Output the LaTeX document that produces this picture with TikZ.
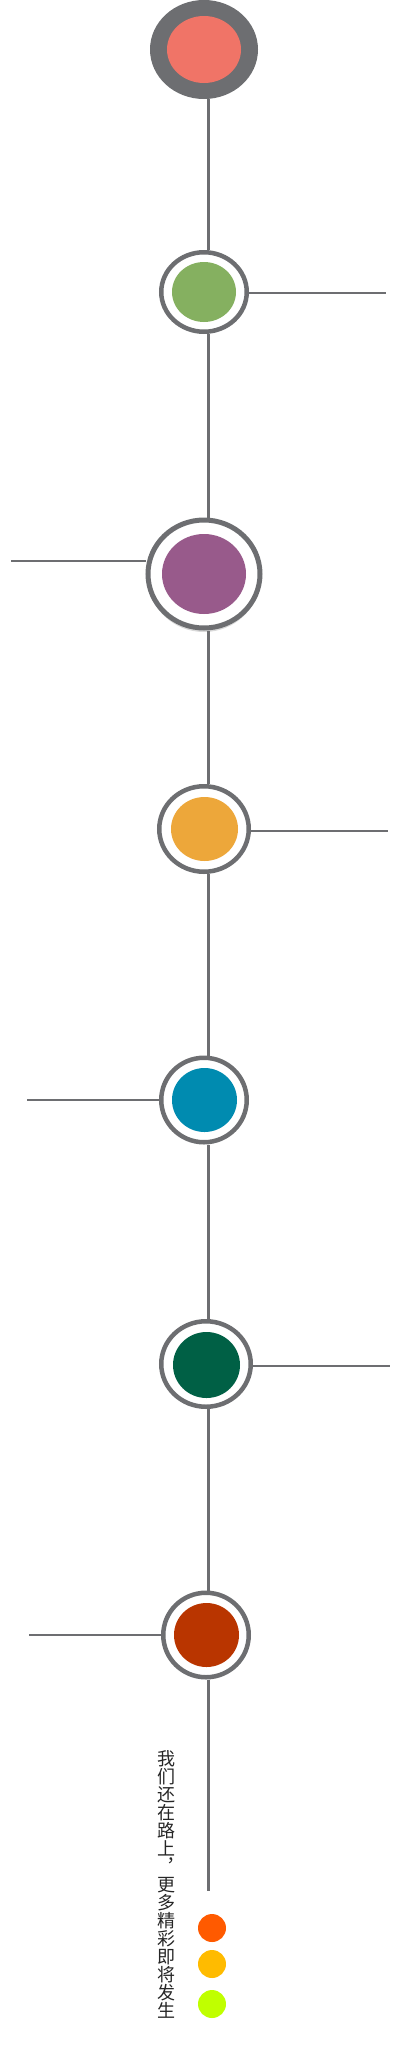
\documentclass[tikz,border=0pt]{standalone}
\usepackage{fontspec}
\newfontfamily\cjk{Noto Sans CJK SC}
\usetikzlibrary{shapes.geometric,shadows}
\definecolor{spinegray}{HTML}{6D6E71}
\definecolor{salmon}{HTML}{F07467}
\definecolor{leaf}{HTML}{85B060}
\definecolor{plum}{HTML}{985A8B}
\definecolor{amber}{HTML}{EDA73A}
\definecolor{teal}{HTML}{008BB0}
\definecolor{pine}{HTML}{006045}
\definecolor{rust}{HTML}{B93500}
\definecolor{flame}{HTML}{FF5A00}
\definecolor{gold}{HTML}{FFBB00}
\definecolor{lime}{HTML}{C0FF00}
\tikzset{
	ring/.style={ellipse,draw=spinegray,fill=white,line width=4.5pt,inner sep=0pt},
	dot/.style={ellipse,draw=none,inner sep=0pt},
	spine/.style={draw=spinegray,line width=3pt},
	branch/.style={draw=spinegray,line width=2pt},
	bead/.style={circle,draw=none,inner sep=0pt,minimum size=28pt}
}
\begin{document}
\begin{tikzpicture}[x=1pt,y=-1pt]
	\useasboundingbox (0,0) rectangle (401,2045);
	% stops along the timeline
	\node (s1)  at (204,49.5) [dot,fill=spinegray,minimum width=108pt,minimum height=99pt] {};
	\node (s1c) at (204,49.5) [dot,fill=salmon,minimum width=74pt,minimum height=67pt] {};
	\node (s2)  at (204,292)  [ring,minimum width=85.5pt,minimum height=79.5pt] {};
	\node (s2c) at (204,292)  [dot,fill=leaf,minimum width=64pt,minimum height=60pt] {};
	\node (s3)  at (204,574)  [ring,line width=5pt,minimum width=112pt,minimum height=108pt,
								drop shadow={shadow xshift=0pt,shadow yshift=-4pt,opacity=0.3}] {};
	\node (s3c) at (204,574)  [dot,fill=plum,minimum width=84pt,minimum height=80pt] {};
	\node (s4)  at (204,829)  [ring,minimum width=89.5pt,minimum height=85.5pt] {};
	\node (s4c) at (204.5,829) [dot,fill=amber,minimum width=67pt,minimum height=64pt] {};
	\node (s5)  at (204,1100) [ring,minimum width=85.5pt,minimum height=84.5pt] {};
	\node (s5c) at (204.5,1100) [dot,fill=teal,minimum width=65pt,minimum height=64pt] {};
	\node (s6)  at (206,1364) [ring,minimum width=89.5pt,minimum height=85.5pt] {};
	\node (s6c) at (206.5,1365) [dot,fill=pine,minimum width=67pt,minimum height=66pt] {};
	\node (s7)  at (206,1635) [ring,minimum width=85.5pt,minimum height=84.5pt] {};
	\node (s7c) at (206.5,1635) [dot,fill=rust,minimum width=65pt,minimum height=64pt] {};
	% spine, kept at x=208
	\coordinate (tail) at (208,1891);
	\draw[spine] (tail |- s1.south) -- (tail |- s2.north);
	\draw[spine] (tail |- s2.south) -- (tail |- s3.north);
	\draw[spine] (tail |- s3.south) -- (tail |- s4.north);
	\draw[spine] (tail |- s4.south) -- (tail |- s5.north);
	\draw[spine] (tail |- s5.south) -- (tail |- s6.north);
	\draw[spine] (tail |- s6.south) -- (tail |- s7.north);
	\draw[spine] (tail |- s7.south) -- (tail);
	% branches
	\coordinate (b2) at (386,292.5);
	\coordinate (b3) at (11,561);
	\coordinate (b4) at (388,831);
	\coordinate (b5) at (27,1100);
	\coordinate (b6) at (390,1366);
	\coordinate (b7) at (29,1635);
	\draw[branch] (b2 -| s2.east) -- (b2);
	\draw[branch] (b3) -- (b3 -| s3.west);
	\draw[branch] (b4 -| s4.east) -- (b4);
	\draw[branch] (b5) -- (b5 -| s5.west);
	\draw[branch] (b6 -| s6.east) -- (b6);
	\draw[branch] (b7) -- (b7 -| s7.west);
	% motto and beads
	\node (motto) at (166,1750) [anchor=north,inner sep=0pt,align=center,text=black!85,
								font=\cjk\fontsize{18}{18}\selectfont]
		{我\\们\\还\\在\\路\\上\\︐\\更\\多\\精\\彩\\即\\将\\发\\生};
	\node (d1) at (212,1928) [bead,fill=flame] {};
	\node (d2) at (212,1964) [bead,fill=gold] {};
	\node (d3) at (212,2004) [bead,fill=lime] {};
\end{tikzpicture}
\end{document}
